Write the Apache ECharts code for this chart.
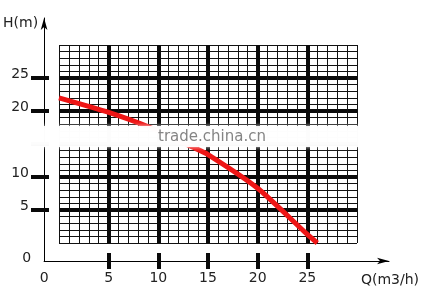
<!DOCTYPE html>
<html><head><meta charset="utf-8">
<script src="https://cdn.jsdelivr.net/npm/echarts@6/dist/echarts.min.js"></script>
<style>html,body{margin:0;padding:0;background:#fff}#c{width:424px;height:290px}</style>
</head><body><div id="c"></div>
<script>
// Pump curve: flow Q (m3/h) vs head H (m)
const flowQ = [0, 5, 9, 13.5, 15, 20, 25, 26];
const headH = [22, 19.8, 17.6, 14.5, 13.4, 8.3, 1.3, 0];
const xTickValues = [5, 10, 15, 20, 25];
const yTickValues = [5, 10, 15, 20, 25];
const yLabelValues = [5, 10, 20, 25];
const xName = 'Q(m3/h)';
const yName = 'H(m)';
const watermark = 'trade.china.cn';

const chart = echarts.init(document.getElementById('c'), null, {renderer: 'canvas'});
const font = {fontFamily: 'DejaVu Sans', fontSize: 14, color: '#222'};
const hidden = {axisLine: {show: false, onZero: false}, axisTick: {show: false}, axisLabel: {show: false}};

const option = {
  animation: false,
  backgroundColor: '#fff',
  grid: [
    {left: 59, top: 45, width: 298, height: 198},
    {left: 40, top: 18, right: 35, bottom: 29}
  ],
  xAxis: [
    {gridIndex: 0, type: 'value', min: 0, max: 30, interval: 1, ...hidden,
     splitLine: {show: true, lineStyle: {color: '#111', width: 1}}},
    {gridIndex: 0, type: 'value', min: 0, max: 30, interval: 5, ...hidden,
     splitLine: {show: true, showMinLine: false, showMaxLine: false, lineStyle: {color: '#0a0a0a', width: 4}}},
    {gridIndex: 0, type: 'value', min: 0, max: 30, interval: 5, position: 'bottom', offset: 10,
     axisLine: {show: false, onZero: false}, splitLine: {show: false},
     axisTick: {show: true, customValues: xTickValues, length: 16, lineStyle: {color: '#0a0a0a', width: 4}},
     axisLabel: {show: true, customValues: xTickValues, margin: 18, ...font}},
    {gridIndex: 1, type: 'value', min: 0, max: 10, interval: 10, splitLine: {show: false}, axisTick: {show: false},
     axisLine: {show: true, onZero: false, symbol: ['none', 'arrow'], symbolSize: [5, 12], lineStyle: {color: '#000', width: 1}},
     axisLabel: {formatter: v => v === 0 ? '0' : '', margin: 10, ...font},
     name: xName, nameLocation: 'end', nameGap: 1,
     nameTextStyle: {...font, align: 'center', verticalAlign: 'top', padding: [12, 0, 0, 0]}}
  ],
  yAxis: [
    {gridIndex: 0, type: 'value', min: 0, max: 30, interval: 1, ...hidden,
     splitLine: {show: true, lineStyle: {color: '#111', width: 1}}},
    {gridIndex: 0, type: 'value', min: 0, max: 30, interval: 5, ...hidden,
     splitLine: {show: true, showMinLine: false, showMaxLine: false, lineStyle: {color: '#0a0a0a', width: 4}}},
    {gridIndex: 0, type: 'value', min: 0, max: 30, interval: 5, position: 'left', offset: 10,
     axisLine: {show: false, onZero: false}, splitLine: {show: false},
     axisTick: {show: true, customValues: yTickValues, length: 18, lineStyle: {color: '#0a0a0a', width: 4}},
     axisLabel: {show: true, customValues: yLabelValues, margin: 20, verticalAlign: 'bottom', lineHeight: 8, ...font}},
    {gridIndex: 1, type: 'value', min: 0, max: 10, interval: 10, splitLine: {show: false}, axisTick: {show: false},
     axisLine: {show: true, onZero: false, symbol: ['none', 'arrow'], symbolSize: [5, 12], lineStyle: {color: '#000', width: 1}},
     axisLabel: {formatter: v => v === 0 ? '0' : '', margin: 13, verticalAlign: 'bottom', lineHeight: 6, ...font},
     name: yName, nameLocation: 'end', nameGap: -5,
     nameTextStyle: {...font, align: 'right', verticalAlign: 'middle', padding: [0, 6, 0, 0]}}
  ],
  series: [{
    type: 'line', xAxisIndex: 0, yAxisIndex: 0,
    data: flowQ.map((q, i) => [q, headH[i]]),
    symbol: 'none', smooth: 0.2,
    lineStyle: {color: '#ee1515', width: 5},
    z: 10
  }],
  graphic: [
    {type: 'rect', z: 100, shape: {x: 24, y: 126, width: 338, height: 21},
     style: {fill: 'rgba(255,255,255,0.93)', shadowBlur: 4, shadowColor: 'rgba(255,255,255,0.9)'}},
    {type: 'text', z: 101, x: 212, y: 137,
     style: {text: watermark, fill: 'rgba(110,110,110,0.85)', font: '15px "DejaVu Sans"', align: 'center', verticalAlign: 'middle'}}
  ]
};
chart.setOption(option);
</script>
</body></html>
